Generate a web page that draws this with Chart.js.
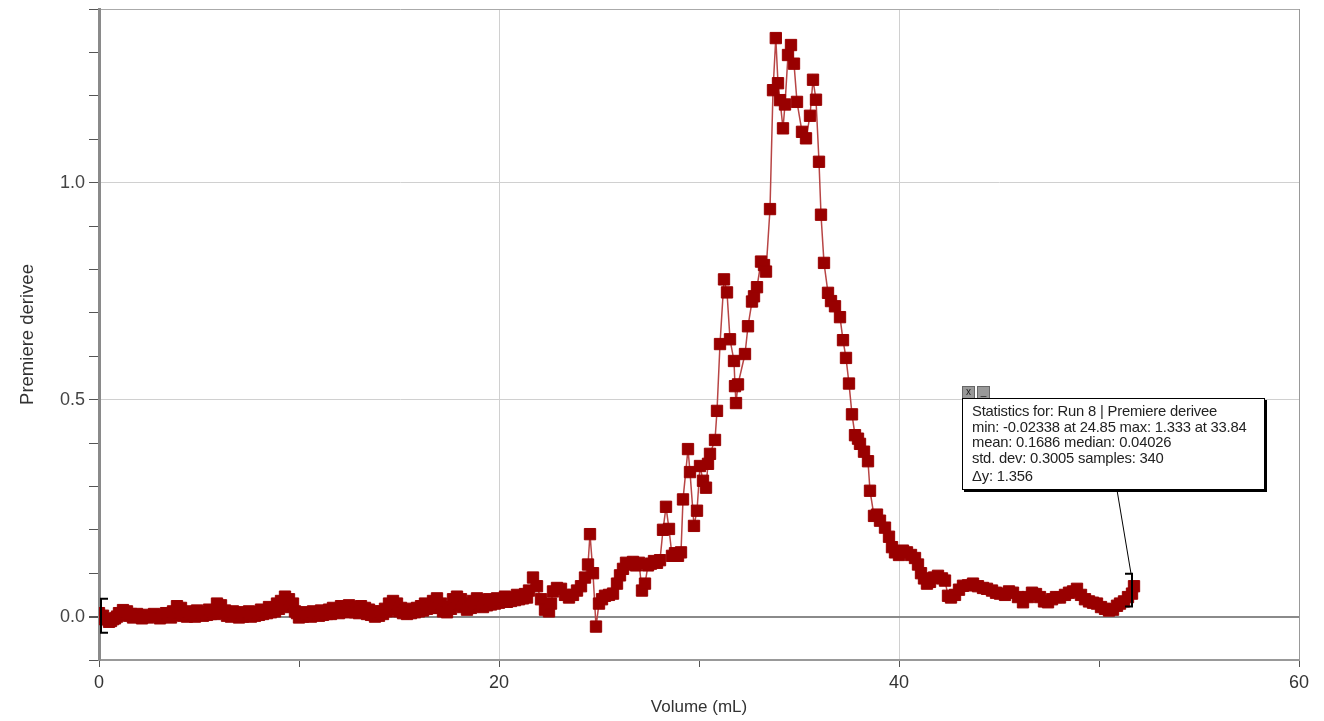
<!DOCTYPE html>
<html lang="fr">
<head>
    <meta charset="UTF-8">
    <title>Premiere derivee - Run 8</title>
    <style>
        body {
            margin: 0;
            background: #fff;
            font-family: Arial, "Liberation Sans", sans-serif;
        }

        #wrap {
            position: relative;
            width: 1324px;
            height: 721px;
        }

        .stats {
            position: absolute;
            left: 962px;
            top: 398px;
            width: 303px;
            height: 92px;
            background: #fff;
            border: 1px solid #000;
            box-shadow: 2px 2px 0 #000;
            font-size: 14.8px;
            line-height: 15.5px;
            color: #222;
            padding: 5px 0 0 9px;
            box-sizing: border-box;
            white-space: nowrap;
            letter-spacing: -0.2px;
        }

        .btns {
            position: absolute;
            left: 962px;
            top: 386px;
        }

        .btns span {
            display: inline-block;
            width: 11px;
            height: 11px;
            margin-right: 2px;
            background: #999;
            border: 1px solid #666;
            font-size: 10px;
            line-height: 10px;
            text-align: center;
            color: #222;
            vertical-align: top;
        }
    </style>
</head>
<body>

<div id="wrap">
    <canvas id="deriveeChart" width="1324" height="721"></canvas>
    <div class="btns"><span>x</span><span>_</span></div>
    <div class="stats">
        Statistics for: Run 8 | Premiere derivee<br>
        min: -0.02338 at 24.85 max: 1.333 at 33.84<br>
        mean: 0.1686 median: 0.04026<br>
        std. dev: 0.3005 samples: 340<br>
        <span style="line-height:21px">&Delta;y: 1.356</span>
    </div>
</div>

<script src="https://cdn.jsdelivr.net/npm/chart.js"></script>
<script>
    // volume (mL) et premiere derivee
    const volume = [
        0, 0.1, 0.2, 0.3, 0.4, 0.5, 0.6, 0.7, 0.8, 0.9,
        1.0, 1.1, 1.2, 1.3, 1.4, 1.5, 1.6, 1.7, 1.8, 1.9,
        2.0, 2.15, 2.3, 2.45, 2.6, 2.75, 2.9, 3.05, 3.2, 3.35,
        3.5, 3.6, 3.7, 3.8, 3.9, 4.0, 4.1, 4.2, 4.3, 4.4,
        4.5, 4.6, 4.7, 4.8, 4.9, 5.0, 5.1, 5.2, 5.3, 5.4,
        5.5, 5.6, 5.7, 5.8, 5.9, 6.0, 6.1, 6.2, 6.3, 6.4,
        6.5, 6.6, 6.7, 6.8, 6.9, 7.0, 7.1, 7.2, 7.3, 7.4,
        7.5, 7.6, 7.7, 7.8, 7.9, 8.0, 8.1, 8.2, 8.3, 8.4,
        8.5, 8.6, 8.7, 8.8, 8.9, 9.0, 9.1, 9.2, 9.3, 9.4,
        9.5, 9.6, 9.7, 9.8, 9.9, 10.0, 10.1, 10.2, 10.3, 10.4,
        10.5, 10.6, 10.7, 10.8, 10.9, 11.0, 11.1, 11.2, 11.3, 11.4,
        11.5, 11.6, 11.7, 11.8, 11.9, 12.0, 12.1, 12.2, 12.3, 12.4,
        12.5, 12.6, 12.7, 12.8, 12.9, 13.0, 13.1, 13.2, 13.3, 13.4,
        13.5, 13.6, 13.7, 13.8, 13.9, 14.0, 14.1, 14.2, 14.3, 14.4,
        14.5, 14.6, 14.7, 14.8, 14.9, 15.0, 15.1, 15.2, 15.3, 15.4,
        15.5, 15.6, 15.7, 15.8, 15.9, 16.0, 16.1, 16.2, 16.3, 16.4,
        16.5, 16.6, 16.7, 16.8, 16.9, 17.0, 17.1, 17.2, 17.3, 17.4,
        17.5, 17.6, 17.7, 17.8, 17.9, 18.0, 18.1, 18.2, 18.3, 18.4,
        18.5, 18.6, 18.7, 18.8, 18.9, 19.0, 19.1, 19.2, 19.3, 19.4,
        19.5, 19.6, 19.7, 19.8, 19.9, 20.0, 20.1, 20.2, 20.3, 20.4,
        20.5, 20.6, 20.7, 20.8, 20.9, 21.0, 21.1, 21.2, 21.3, 21.4,
        21.5, 21.7, 21.9, 22.1, 22.3,
        22.5, 22.6, 22.7, 22.9, 23.1, 23.3, 23.5, 23.7, 23.9, 24.1,
        24.3, 24.45, 24.55, 24.7, 24.85, 25.0, 25.15, 25.3, 25.5, 25.7,
        25.9, 26.05, 26.2, 26.35, 26.5, 26.7, 26.85, 27.0, 27.15, 27.3,
        27.45, 27.6, 27.75, 27.9, 28.05, 28.2, 28.35, 28.5, 28.65, 28.8,
        28.95, 29.1, 29.2, 29.45, 29.55, 29.75, 29.9, 30.05, 30.2, 30.35,
        30.45, 30.55, 30.8, 30.9, 31.05, 31.25, 31.4, 31.55, 31.75, 31.8,
        31.85, 31.95, 32.3, 32.45, 32.65, 32.75, 32.9, 33.1, 33.25, 33.35,
        33.55, 33.7, 33.84, 33.95, 34.05, 34.2, 34.3, 34.45, 34.6, 34.75,
        34.9, 35.15, 35.35, 35.55, 35.7, 35.85, 36.0, 36.1, 36.25, 36.45,
        36.6, 36.8, 37.05, 37.2, 37.35, 37.5, 37.65, 37.8, 37.95, 38.05,
        38.25, 38.45, 38.55, 38.75, 38.9, 39.05, 39.3, 39.5, 39.65, 39.8,
        40.0, 40.2, 40.4, 40.6, 40.8, 40.95, 41.1, 41.25, 41.4, 41.55,
        41.75, 41.95, 42.15, 42.3, 42.45, 42.6, 42.8, 43.0, 43.2, 43.45,
        43.7, 43.95, 44.2, 44.4, 44.65, 44.85, 45.05, 45.3, 45.5, 45.7,
        45.95, 46.2, 46.45, 46.65, 46.85, 47.05, 47.25, 47.45, 47.65, 47.85,
        48.05, 48.3, 48.5, 48.7, 48.9, 49.1, 49.3, 49.5, 49.7, 49.9,
        50.1, 50.3, 50.5, 50.7, 50.9, 51.05, 51.25, 51.45, 51.65, 51.75
    ];
    const derivee = [
        0.008, 0.000, 0.002, -0.006, -0.006, -0.012, -0.010, -0.006, -0.004, 0.000,
        0.008, 0.004, 0.015, 0.006, 0.012, 0.002, 0.006, -0.002, 0.003, 0.006,
        0.002, -0.004, 0.004, -0.002, 0.001, 0.006, 0.003, -0.004, 0.000, 0.008,
        0.004, -0.002, 0.012, 0.004, 0.024, 0.010, 0.020, 0.002, 0.008, 0.000,
        0.012, 0.004, 0.006, 0.000, 0.014, 0.004, 0.010, 0.002, 0.008, 0.004,
        0.016, 0.006, 0.012, 0.006, 0.030, 0.014, 0.026, 0.008, 0.014, 0.002,
        0.008, 0.000, 0.012, 0.002, 0.005, -0.002, 0.010, 0.000, 0.004, 0.008,
        0.012, 0.000, 0.006, 0.002, 0.010, 0.004, 0.016, 0.006, 0.012, 0.008,
        0.022, 0.010, 0.018, 0.012, 0.030, 0.018, 0.036, 0.024, 0.046, 0.028,
        0.040, 0.022, 0.030, 0.012, 0.008, -0.002, 0.004, 0.000, 0.010, 0.002,
        0.006, 0.000, 0.012, 0.004, 0.008, 0.002, 0.014, 0.004, 0.010, 0.006,
        0.016, 0.006, 0.020, 0.010, 0.016, 0.008, 0.024, 0.012, 0.020, 0.010,
        0.026, 0.012, 0.022, 0.010, 0.018, 0.008, 0.024, 0.012, 0.020, 0.006,
        0.016, 0.004, 0.012, 0.000, 0.008, 0.002, 0.012, 0.006, 0.018, 0.012,
        0.030, 0.018, 0.036, 0.020, 0.030, 0.012, 0.020, 0.008, 0.014, 0.006,
        0.018, 0.008, 0.012, 0.010, 0.020, 0.012, 0.024, 0.014, 0.030, 0.018,
        0.026, 0.020, 0.036, 0.024, 0.042, 0.020, 0.030, 0.012, 0.018, 0.010,
        0.022, 0.018, 0.040, 0.026, 0.046, 0.030, 0.040, 0.022, 0.030, 0.016,
        0.024, 0.020, 0.036, 0.024, 0.042, 0.030, 0.038, 0.022, 0.030, 0.026,
        0.040, 0.028, 0.036, 0.030, 0.042, 0.032, 0.038, 0.034, 0.046, 0.034,
        0.040, 0.036, 0.044, 0.038, 0.050, 0.040, 0.046, 0.042, 0.052, 0.044,
        0.060, 0.090, 0.070, 0.040, 0.016,
        0.012, 0.030, 0.058, 0.066, 0.064, 0.050, 0.044, 0.050, 0.060, 0.070,
        0.090, 0.120, 0.190, 0.100, -0.023, 0.030, 0.040, 0.048, 0.050, 0.053,
        0.076, 0.095, 0.110, 0.124, 0.120, 0.126, 0.118, 0.124, 0.060, 0.076,
        0.118, 0.122, 0.128, 0.124, 0.130, 0.200, 0.253, 0.202, 0.140, 0.146,
        0.140, 0.148, 0.270, 0.386, 0.333, 0.209, 0.244, 0.347, 0.313, 0.297,
        0.352, 0.375, 0.407, 0.474, 0.628, 0.777, 0.747, 0.639, 0.589, 0.531,
        0.492, 0.535, 0.605, 0.669, 0.726, 0.738, 0.759, 0.818, 0.810, 0.795,
        0.939, 1.213, 1.333, 1.229, 1.190, 1.125, 1.180, 1.294, 1.317, 1.274,
        1.186, 1.117, 1.102, 1.154, 1.237, 1.191, 1.048, 0.926, 0.815, 0.746,
        0.727, 0.715, 0.690, 0.637, 0.596, 0.537, 0.466, 0.418, 0.410, 0.398,
        0.380, 0.358, 0.290, 0.232, 0.235, 0.221, 0.205, 0.184, 0.160, 0.148,
        0.142, 0.152, 0.148, 0.142, 0.135, 0.120, 0.100, 0.088, 0.076, 0.080,
        0.090, 0.094, 0.088, 0.083, 0.048, 0.044, 0.050, 0.062, 0.071, 0.072,
        0.076, 0.070, 0.066, 0.064, 0.060, 0.055, 0.053, 0.050, 0.058, 0.055,
        0.045, 0.033, 0.045, 0.055, 0.052, 0.045, 0.035, 0.033, 0.040, 0.045,
        0.044, 0.050, 0.055, 0.058, 0.064, 0.050, 0.040, 0.035, 0.032, 0.030,
        0.022, 0.018, 0.014, 0.016, 0.025, 0.030, 0.035, 0.045, 0.053, 0.070
    ];

    // crochets de la plage statistique (x, ybas, yhaut)
    const bracketStart = [0.1, -0.037, 0.041];
    const bracketEnd = [51.65, 0.023, 0.099];

    const points = volume.map((v, i) => ({ x: v, y: derivee[i] }));

    const bracketPlugin = {
        id: 'brackets',
        afterDatasetsDraw(chart) {
            const ctx = chart.ctx;
            const xs = chart.scales.x;
            const ys = chart.scales.y;
            ctx.save();
            ctx.strokeStyle = '#000';
            ctx.lineWidth = 2;

            // crochet gauche
            let bx = xs.getPixelForValue(bracketStart[0]);
            let b0 = ys.getPixelForValue(bracketStart[1]);
            let b1 = ys.getPixelForValue(bracketStart[2]);
            ctx.beginPath();
            ctx.moveTo(bx + 7, b1);
            ctx.lineTo(bx, b1);
            ctx.lineTo(bx, b0);
            ctx.lineTo(bx + 7, b0);
            ctx.stroke();

            // crochet droit
            bx = xs.getPixelForValue(bracketEnd[0]);
            b0 = ys.getPixelForValue(bracketEnd[1]);
            b1 = ys.getPixelForValue(bracketEnd[2]);
            ctx.beginPath();
            ctx.moveTo(bx - 7, b1);
            ctx.lineTo(bx, b1);
            ctx.lineTo(bx, b0);
            ctx.lineTo(bx - 7, b0);
            ctx.stroke();

            // trait vers la boite de statistiques
            ctx.lineWidth = 1;
            ctx.beginPath();
            ctx.moveTo(bx - 1, b1);
            ctx.lineTo(1117, 490);
            ctx.stroke();
            ctx.restore();
        }
    };

    const gridX = (ctx) => {
        const v = ctx.tick ? ctx.tick.value : null;
        if (v === 60) return '#999';
        if (v === 20 || v === 40) return '#d0d0d0';
        return 'rgba(0,0,0,0)';
    };
    const gridY = (ctx) => {
        const v = ctx.tick ? Math.round(ctx.tick.value * 10) / 10 : null;
        if (v === 0) return '#8a8a8a';
        if (v === 1.4) return '#aaa';
        if (v === 0.5 || v === 1) return '#d0d0d0';
        return 'rgba(0,0,0,0)';
    };

    const ctx = document.getElementById('deriveeChart').getContext('2d');
    const chart = new Chart(ctx, {
        type: 'scatter',
        data: {
            datasets: [{
                label: 'Premiere derivee',
                data: points,
                showLine: true,
                borderColor: '#b84545',
                borderWidth: 1.5,
                pointStyle: 'rect',
                pointRadius: 8,
                pointBorderWidth: 1,
                pointBackgroundColor: '#990000',
                pointBorderColor: '#990000',
                tension: 0
            }]
        },
        plugins: [bracketPlugin],
        options: {
            responsive: false,
            animation: false,
            layout: {
                padding: { top: 8, right: 25, left: 0, bottom: 0 }
            },
            plugins: {
                legend: { display: false },
                tooltip: { enabled: false }
            },
            scales: {
                x: {
                    type: 'linear',
                    min: 0,
                    max: 60,
                    afterFit: (s) => {
                        s.height = 61;
                        s.paddingLeft = 0;
                        s.paddingRight = 0;
                    },
                    ticks: {
                        stepSize: 10,
                        padding: 5,
                        color: '#333',
                        font: { family: 'Arial, "Liberation Sans", sans-serif', size: 18 },
                        callback: (v) => (v % 20 === 0 ? String(v) : '')
                    },
                    grid: {
                        color: gridX,
                        tickColor: '#555',
                        tickLength: 7,
                        lineWidth: 1
                    },
                    border: { color: '#999', width: 2 },
                    title: {
                        display: true,
                        text: 'Volume (mL)',
                        color: '#333',
                        font: { family: 'Arial, "Liberation Sans", sans-serif', size: 17 },
                        padding: { top: 0, bottom: 3 }
                    }
                },
                y: {
                    min: -0.1,
                    max: 1.4,
                    afterFit: (s) => {
                        s.width = 99;
                        s.paddingTop = 0;
                        s.paddingBottom = 0;
                    },
                    ticks: {
                        stepSize: 0.1,
                        padding: 4,
                        color: '#444',
                        font: { family: 'Arial, "Liberation Sans", sans-serif', size: 18 },
                        callback: (v) => {
                            const r = Math.round(v * 10) / 10;
                            return (r === 0 || r === 0.5 || r === 1) ? r.toFixed(1) : '';
                        }
                    },
                    grid: {
                        color: gridY,
                        lineWidth: (c) => (c.tick && Math.abs(c.tick.value) < 1e-9 ? 2 : 1),
                        tickColor: '#555',
                        tickLength: 10
                    },
                    border: { color: '#8a8a8a', width: 3 },
                    title: {
                        display: true,
                        text: 'Premiere derivee',
                        color: '#333',
                        font: { family: 'Arial, "Liberation Sans", sans-serif', size: 18.5 },
                        padding: { top: 17, bottom: 0 }
                    }
                }
            }
        }
    });
</script>

</body>
</html>
